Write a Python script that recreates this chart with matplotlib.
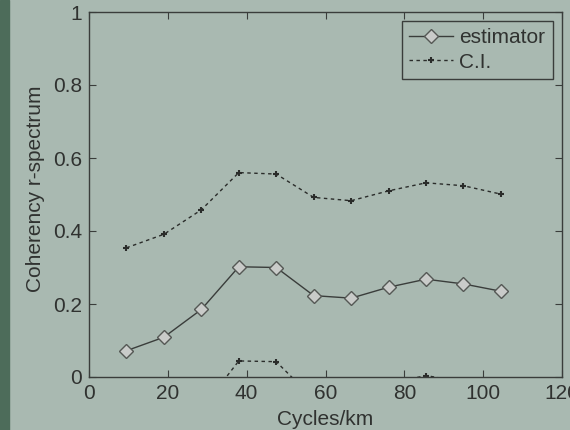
import matplotlib
matplotlib.use("Agg")
from matplotlib import pyplot as plt
from matplotlib.patches import Rectangle

plt.rcParams['font.family'] = ['Liberation Sans', 'DejaVu Sans']

# 数据：频率 (Cycles/km) 与相干谱估计及置信区间
x = [9.5, 19, 28.5, 38, 47.5, 57, 66.5, 76, 85.5, 95, 104.5]
est = [0.072, 0.109, 0.185, 0.302, 0.300, 0.223, 0.216, 0.246, 0.268, 0.255, 0.235]
ci_up = [0.354, 0.391, 0.458, 0.560, 0.556, 0.492, 0.483, 0.510, 0.532, 0.524, 0.501]
ci_low = [-0.210, -0.173, -0.088, 0.044, 0.042, -0.060, -0.051, -0.018, 0.004, -0.014, -0.031]
xticks = [0, 20, 40, 60, 80, 100, 120]
yticks = [0, 0.2, 0.4, 0.6, 0.8, 1]
ytick_labels = ["0", "0.2", "0.4", "0.6", "0.8", "1"]

bg = "#a9b9b1"
ink = "#3a3d3b"
txt = "#303230"
fs = 15

fig = plt.figure(figsize=(5.7, 4.3), dpi=100, facecolor=bg)
# 左侧深绿色边条
fig.patches.append(Rectangle((0, 0), 9 / 570, 1, transform=fig.transFigure,
                             color="#4d6c5a", zorder=0))
ax = fig.add_axes([89 / 570, 1 - 377 / 430, 473 / 570, 365 / 430])
ax.set_facecolor(bg)

ax.plot(x, est, color=ink, lw=1.0, marker="D", markersize=7,
        markerfacecolor="#c9cbc9", markeredgecolor="#555855", label="estimator")
ax.plot(x, ci_up, color="#2a2c2a", lw=1.0, linestyle=(0, (2.5, 2.5)), marker="+",
        markersize=4, markeredgewidth=1.5, label="C.I.")
ax.plot(x, ci_low, color="#2a2c2a", lw=1.0, linestyle=(0, (2.5, 2.5)), marker="+",
        markersize=4, markeredgewidth=1.5)

ax.set_xlim(0, 120)
ax.set_ylim(0, 1)
ax.set_xticks(xticks)
ax.set_yticks(yticks)
ax.set_yticklabels(ytick_labels)
ax.tick_params(direction="in", top=True, right=True, length=5, width=0.8,
               color=ink, labelsize=fs, labelcolor=txt, pad=5)
for s in ax.spines.values():
    s.set_color(ink)
    s.set_linewidth(1.0)

ax.set_xlabel("Cycles/km", fontsize=fs, color=txt, labelpad=5)
ax.set_ylabel("Coherency r-spectrum", fontsize=fs, color=txt)
ax.yaxis.set_label_coords(-0.093, 0.516)

leg = ax.legend(loc="upper right", fontsize=fs, frameon=True, fancybox=False,
                edgecolor=ink, facecolor=bg, framealpha=1, handlelength=2.1,
                borderpad=0.35, labelspacing=0.25, handletextpad=0.3,
                borderaxespad=0, bbox_to_anchor=(0.98, 0.975))
leg.get_frame().set_linewidth(1.0)
for t in leg.get_texts():
    t.set_color(txt)

fig.savefig("out.png", dpi=100, facecolor=bg)
